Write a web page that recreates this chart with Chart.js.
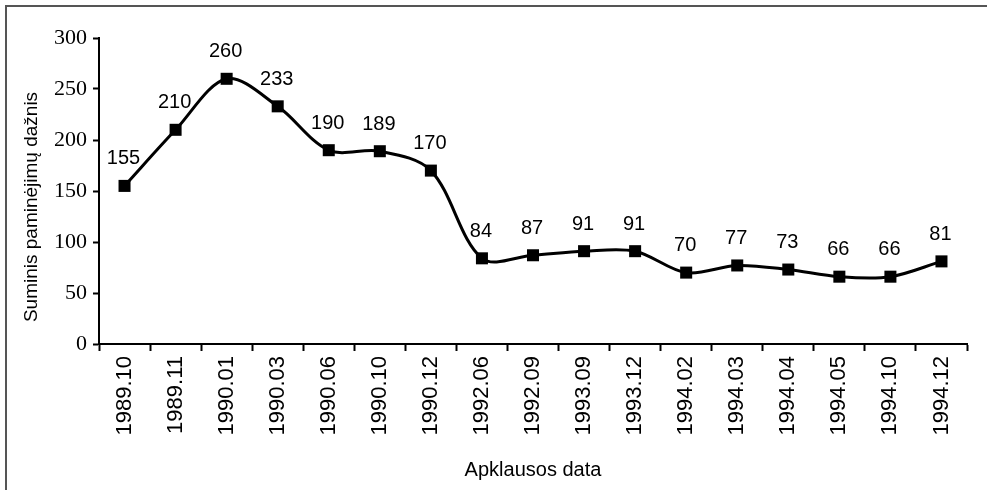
<!DOCTYPE html>
<html>
<head>
<meta charset="utf-8">
<script src="https://cdn.jsdelivr.net/npm/chart.js@4"></script>
<style>
html, body { margin: 0; padding: 0; background: #fff; }
#wrap { position: relative; width: 987px; height: 490px; overflow: hidden; }
#frame { position: absolute; left: 5px; top: 5px; width: 990px; height: 500px; border-top: 2px solid #555; border-left: 2px solid #555; }
canvas { position: absolute; left: 0; top: 0; }
</style>
</head>
<body>
<div id="wrap">
  <div id="frame"></div>
  <canvas id="chart" width="987" height="490"></canvas>
</div>
<script>
const surveyDates = ['1989.10', '1989.11', '1990.01', '1990.03', '1990.06', '1990.10', '1990.12',
    '1992.06', '1992.09', '1993.09', '1993.12', '1994.02', '1994.03', '1994.04', '1994.05',
    '1994.10', '1994.12'];
const mentionCounts = [155, 210, 260, 233, 190, 189, 170, 84, 87, 91, 91, 70, 77, 73, 66, 66, 81];
const yMin = 0;
const yMax = 300;
const yStep = 50;
const yTitle = 'Suminis paminėjimų dažnis';
const xTitle = 'Apklausos data';

const sansFont = '"Liberation Sans", Arial, sans-serif';
const serifFont = '"Liberation Serif", "Times New Roman", serif';

// number above every point, plus the y title (sits a bit below the axis middle)
const pointLabels = {
    id: 'pointLabels',
    afterDatasetsDraw(chart) {
        const ctx = chart.ctx;
        const meta = chart.getDatasetMeta(0);
        ctx.save();
        ctx.font = '20px ' + sansFont;
        ctx.fillStyle = '#000';
        ctx.textAlign = 'center';
        ctx.textBaseline = 'middle';
        meta.data.forEach((pt, i) => {
            ctx.fillText(String(mentionCounts[i]), pt.x - 1, pt.y - 27);
        });

        const area = chart.chartArea;
        ctx.font = '19px ' + sansFont;
        ctx.translate(32, (area.top + area.bottom) / 2 + 16);
        ctx.rotate(-Math.PI / 2);
        ctx.fillText(yTitle, 0, 0);
        ctx.restore();
    }
};

new Chart(document.getElementById('chart'), {
    type: 'line',
    data: {
        labels: surveyDates,
        datasets: [{
            data: mentionCounts,
            borderColor: '#000',
            borderWidth: 3,
            tension: 0.33,
            pointStyle: 'rect',
            pointRadius: 8.5,
            pointBackgroundColor: '#000',
            pointBorderWidth: 0,
            clip: false
        }]
    },
    options: {
        responsive: false,
        animation: false,
        layout: {
            padding: { left: 10, right: 20, top: 38, bottom: 0 }
        },
        plugins: {
            legend: { display: false },
            tooltip: { enabled: false }
        },
        scales: {
            x: {
                type: 'category',
                offset: true,
                afterFit: (scale) => { scale.height = 146; },
                grid: {
                    offset: true,
                    drawOnChartArea: false,
                    tickLength: 7,
                    tickWidth: 2,
                    tickColor: '#000'
                },
                border: { color: '#000', width: 2 },
                ticks: {
                    autoSkip: false,
                    minRotation: 90,
                    maxRotation: 90,
                    padding: 5,
                    color: '#000',
                    font: { family: sansFont, size: 22 }
                },
                title: {
                    display: true,
                    text: xTitle,
                    color: '#000',
                    padding: 8,
                    font: { family: sansFont, size: 20 }
                }
            },
            y: {
                min: yMin,
                max: yMax,
                afterFit: (scale) => { scale.width = 89; },
                grid: {
                    drawOnChartArea: false,
                    tickLength: 6,
                    tickWidth: 2,
                    tickColor: '#000'
                },
                border: { color: '#000', width: 2 },
                ticks: {
                    stepSize: yStep,
                    padding: 6,
                    color: '#000',
                    font: { family: serifFont, size: 22 }
                }
            }
        }
    },
    plugins: [pointLabels]
});
</script>
</body>
</html>
